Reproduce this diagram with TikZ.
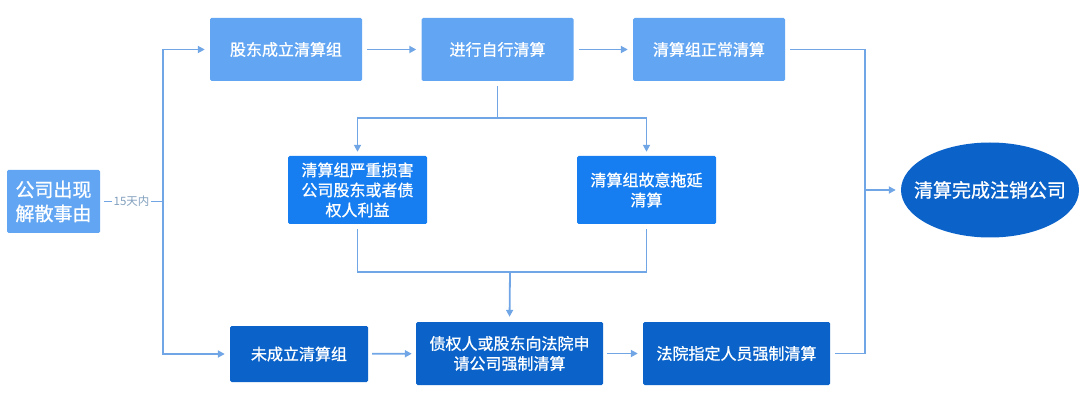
\documentclass[tikz,border=0pt]{standalone}
\usepackage{fontspec}
\setmainfont{Noto Sans CJK SC}
\newfontfamily\bx{Noto Sans CJK SC}[FakeBold=0.9]
\usetikzlibrary{arrows.meta,shapes.geometric}
\definecolor{lblue}{RGB}{98,166,243}
\definecolor{mblue}{RGB}{22,126,240}
\definecolor{dblue}{RGB}{11,99,202}
\definecolor{lnc}{RGB}{112,166,230}
\definecolor{lbl}{RGB}{130,160,190}
\tikzset{
  box/.style={rectangle,rounded corners=1.5pt,text=white,align=center,inner sep=0pt,font=\bx\fontsize{16}{20}\selectfont},
  lbox/.style={box,fill=lblue,minimum width=152,minimum height=63},
  mbox/.style={box,fill=mblue,minimum width=139,minimum height=68},
  dbox/.style={box,fill=dblue,minimum height=63},
  conn/.style={draw=lnc,line width=1.8pt},
  arr/.style={conn,-{Triangle[length=7pt,width=7pt]}},
}
\begin{document}
\begin{tikzpicture}[x=1pt,y=-1pt]
\useasboundingbox (0,0) rectangle (1080,401);
\node[box,fill=lblue,minimum width=93,minimum height=63,font=\bx\fontsize{19}{24}\selectfont] (st) at (53.5,201.5) {公司出现\\解散事由};
\node[lbox] (s1) at (286,49.5) {股东成立清算组};
\node[lbox] (s2) at (497.5,49.5) {进行自行清算};
\node[lbox] (s3) at (709,49.5) {清算组正常清算};
\node[mbox] (m1) at (357.5,190) {清算组严重损害\\公司股东或者债\\权人利益};
\node[mbox] (m2) at (646.5,190) {清算组故意拖延\\清算};
\node[dbox,minimum width=138,minimum height=56] (b1) at (299,354) {未成立清算组};
\node[dbox,minimum width=187] (b2) at (509.5,353.5) {债权人或股东向法院申\\请公司强制清算};
\node[dbox,minimum width=187] (b3) at (736.5,353.5) {法院指定人员强制清算};
\node[ellipse,fill=dblue,minimum width=178,minimum height=95,inner sep=0pt] (en) at (990,190) {};
\node[text=white,font=\bx\fontsize{19}{24}\selectfont] (ent) at (en.center) {清算完成注销公司};
\coordinate (j) at (163,201.5);
\coordinate (sp) at (497.5,118);
\coordinate (mj) at (510,272);
\coordinate (rj) at (865,190);
% left
\draw[conn,shorten <=4pt] (st.east) -- node[fill=white,inner sep=1.5pt,text=lbl,font=\fontsize{11.5}{13}\selectfont]{15天内} (j);
\draw[arr,shorten >=5pt] (j) |- (s1.west);
\draw[arr,shorten >=5pt] (j) |- (b1.west);
% top row
\draw[arr,shorten <=5pt,shorten >=5pt] (s1) -- (s2);
\draw[arr,shorten <=5pt,shorten >=5pt] (s2) -- (s3);
% split
\draw[conn,shorten <=5pt] (s2.south) -- (sp);
\draw[arr,shorten >=4pt] (sp) -| (m1.north);
\draw[arr,shorten >=4pt] (sp) -| (m2.north);
% merge
\draw[conn,shorten <=5pt] (m1.south) |- (mj);
\draw[conn,shorten <=5pt] (m2.south) |- (mj);
\draw[arr,shorten >=5pt] (mj) -- (b2.north);
% bottom row
\draw[arr,shorten <=4pt,shorten >=4pt] (b1) -- (b2);
\draw[arr,shorten <=4pt,shorten >=5pt] (b2) -- (b3);
% right
\draw[conn,shorten <=5pt] (s3.east) -| (rj);
\draw[conn,shorten <=5pt] (b3.east) -| (rj);
\draw[arr,shorten >=5pt] (rj) -- (en.west);
\end{tikzpicture}
\end{document}
